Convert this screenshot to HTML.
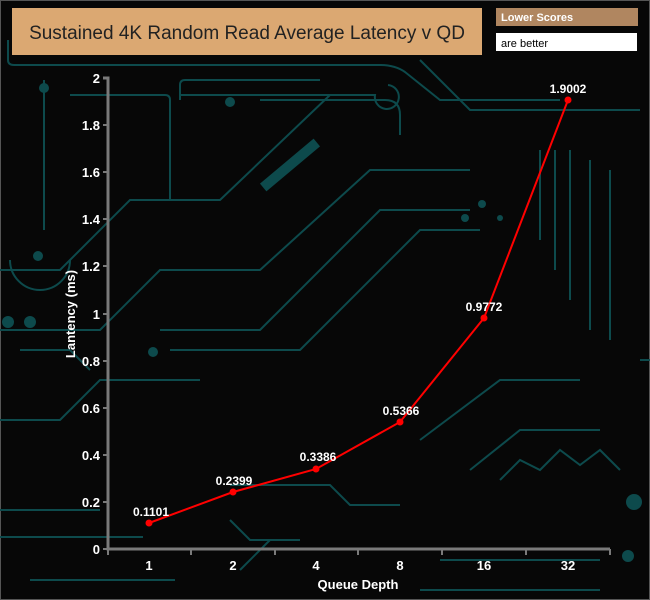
<!DOCTYPE html>
<html><head><style>
html,body{margin:0;padding:0;background:#000;}
svg{display:block;font-family:"Liberation Sans",Arial,sans-serif;}
</style></head><body>
<svg width="650" height="600" viewBox="0 0 650 600" xmlns="http://www.w3.org/2000/svg">
<rect width="650" height="600" fill="#070707"/>
<rect x="0.5" y="0.5" width="649" height="599" fill="none" stroke="#555"/>
<g stroke="#0d4a4c" stroke-width="2" fill="none">
<path d="M8 40 V60 Q8 65 14 65 H380 Q395 65 405 72 L440 100 H560"/>
<path d="M420 60 L470 110 H640"/>
<path d="M180 95 H375 A12 12 0 1 0 388 85"/>
<path d="M180 100 V85 Q180 80 185 80 H320"/>
<path d="M70 95 H165 Q170 95 170 100 V200"/>
<path d="M260 100 H385 Q400 100 400 115 V135"/>
<path d="M0 270 H60 L130 200 H220 L330 95"/>
<path d="M0 330 H100 L160 270 H260 L370 170 H470"/>
<path d="M160 330 H260 L380 210 H470"/>
<path d="M170 350 H300 L420 230 H480"/>
<path d="M20 350 H70 L90 370"/>
<path d="M0 420 H60 L100 380 H200"/>
<path d="M0 510 H100 M0 537 H143"/>
<path d="M230 520 L250 540 H300"/>
<path d="M230 485 H330 L350 505 H400"/>
<path d="M30 580 H175"/>
<path d="M240 570 L270 540"/>
<path d="M420 440 L500 380 H580"/>
<path d="M470 470 L520 430 H600"/>
<path d="M500 480 L520 460 L540 470 L560 450 L580 465 L600 450 L620 470"/>
<path d="M540 150 V240 M555 150 V270 M570 150 V300 M590 160 V330 M610 170 V340"/>
<path d="M440 560 H600 M420 590 H600"/>
<path d="M44 80 V230"/>
<path d="M10 260 A30 30 0 0 0 70 260"/>
<path d="M640 360 H650 M520 20 L620 20"/>
</g>
<g fill="#0d4a4c">
<circle cx="44" cy="88" r="5"/><circle cx="230" cy="102" r="5"/><circle cx="153" cy="352" r="5"/>
<circle cx="634" cy="502" r="8"/><circle cx="628" cy="556" r="6"/><circle cx="38" cy="256" r="5"/>
<circle cx="8" cy="322" r="6"/><circle cx="30" cy="322" r="6"/>
<rect x="255" y="160" width="70" height="10" transform="rotate(-40 290 165)"/>
<circle cx="465" cy="218" r="4"/><circle cx="482" cy="204" r="4"/><circle cx="500" cy="218" r="3"/>
</g>
<rect x="12" y="8" width="470" height="47" fill="#dba872"/>
<text x="247" y="39" text-anchor="middle" font-size="19" fill="#222">Sustained 4K Random Read Average Latency v QD</text>
<rect x="496" y="8" width="142" height="18" fill="#b08660"/>
<text x="501" y="21" font-size="11" font-weight="bold" fill="#fff">Lower Scores</text>
<rect x="496" y="33" width="141" height="18" fill="#fff"/>
<text x="501" y="47" font-size="11" fill="#000">are better</text>
<g stroke="#7a7a7a" stroke-width="3" fill="none">
<path d="M103 78 H108 V549 H610"/>
</g>
<g stroke="#7a7a7a" stroke-width="2">
<path d="M103 125 H108 M103 172 H108 M103 219 H108 M103 266 H108 M103 314 H108 M103 361 H108 M103 408 H108 M103 455 H108 M103 502 H108 M103 549 H108"/>
<path d="M191 549 V555 M275 549 V555 M358 549 V555 M442 549 V555 M526 549 V555 M610 549 V555 M108 549V555"/>
</g>
<g fill="#fff" font-size="13" font-weight="bold" text-anchor="end">
<text x="100" y="83">2</text><text x="100" y="130">1.8</text><text x="100" y="177">1.6</text>
<text x="100" y="224">1.4</text><text x="100" y="271">1.2</text><text x="100" y="319">1</text>
<text x="100" y="366">0.8</text><text x="100" y="413">0.6</text><text x="100" y="460">0.4</text>
<text x="100" y="507">0.2</text><text x="100" y="554">0</text>
</g>
<g fill="#fff" font-size="13" font-weight="bold" text-anchor="middle">
<text x="149" y="570">1</text><text x="233" y="570">2</text><text x="316" y="570">4</text>
<text x="400" y="570">8</text><text x="484" y="570">16</text><text x="568" y="570">32</text>
<text x="358" y="589">Queue Depth</text>
<text transform="translate(75 314) rotate(-90)">Lantency (ms)</text>
</g>
<polyline points="149,523 233,492 316,469 400,422 484,318 568,100" fill="none" stroke="#f00" stroke-width="2"/>
<g fill="#f00">
<circle cx="149" cy="523" r="3.5"/><circle cx="233" cy="492" r="3.5"/><circle cx="316" cy="469" r="3.5"/>
<circle cx="400" cy="422" r="3.5"/><circle cx="484" cy="318" r="3.5"/><circle cx="568" cy="100" r="3.5"/>
</g>
<g fill="#fff" font-size="12" font-weight="bold" text-anchor="middle">
<text x="151" y="516">0.1101</text><text x="234" y="485">0.2399</text><text x="318" y="461">0.3386</text>
<text x="401" y="415">0.5366</text><text x="484" y="311">0.9772</text><text x="568" y="93">1.9002</text>
</g>
</svg>
</body></html>
